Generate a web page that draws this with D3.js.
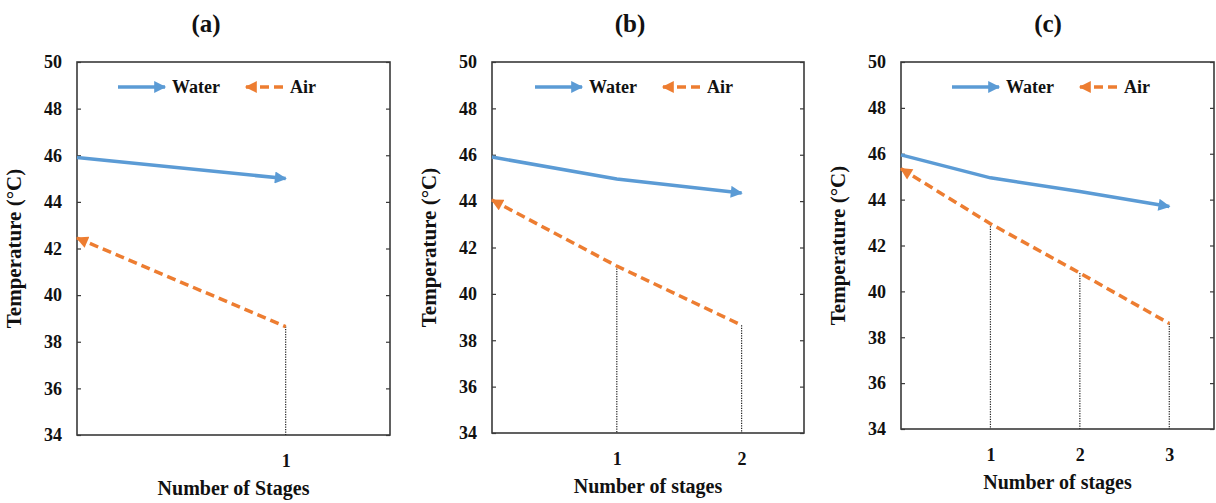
<!DOCTYPE html>
<html>
<head>
<meta charset="utf-8">
<script src="https://cdn.jsdelivr.net/npm/d3@7"></script>
<style>
  body { margin: 0; background: #fff; }
  text { font-family: "Liberation Serif", "Times New Roman", Tinos, "DejaVu Serif", serif !important; font-weight: bold; fill: #111; }
</style>
</head>
<body>
<svg id="chart" width="1216" height="503"></svg>
<script>
// Values
var panelTitles = ["(a)", "(b)", "(c)"];
var xTitles = ["Number of Stages", "Number of stages", "Number of stages"];
var yTitle = "Temperature (°C)";
var legendLabels = ["Water", "Air"];
var yTicks = [34, 36, 38, 40, 42, 44, 46, 48, 50];

var stagesA = [0, 1],
  waterA = [45.9, 45.0],
  airA = [42.45, 38.65];
var stagesB = [0, 1, 2],
  waterB = [45.9, 44.95, 44.35],
  airB = [44.05, 41.2, 38.65];
var stagesC = [0, 1, 2, 3],
  waterC = [45.95, 44.95, 44.35, 43.7],
  airC = [45.35, 42.95, 40.8, 38.6];

var waterColor = "#5b9bd5",
  airColor = "#ed7d31",
  frameColor = "#3a3a3a",
  lineWidth = 3.5;

// Panel placement (pixels)
var panels = [
  { left: 77, right: 390, top: 62, bottom: 435, titleX: 206, legendX: 41, xMax: 1.5,
    title: panelTitles[0], xTitle: xTitles[0], stages: stagesA, water: waterA, air: airA },
  { left: 492, right: 804, top: 62, bottom: 433, titleX: 630, legendX: 43, xMax: 2.5,
    title: panelTitles[1], xTitle: xTitles[1], stages: stagesB, water: waterB, air: airB },
  { left: 901, right: 1214, top: 62, bottom: 429, titleX: 1048, legendX: 51, xMax: 3.5,
    title: panelTitles[2], xTitle: xTitles[2], stages: stagesC, water: waterC, air: airC }
];

var svg = d3.select("#chart");

// Arrow heads
var defs = svg.append("defs");
function arrowMarker(id, color) {
  defs
    .append("marker")
    .attr("id", id)
    .attr("viewBox", "0 -5 10 10")
    .attr("refX", 9)
    .attr("refY", 0)
    .attr("markerUnits", "userSpaceOnUse")
    .attr("markerWidth", 13)
    .attr("markerHeight", 12)
    .attr("orient", "auto-start-reverse")
    .append("path")
    .attr("d", "M0,-5L10,0L0,5Z")
    .attr("fill", color);
}
arrowMarker("arrowWater", waterColor);
arrowMarker("arrowAir", airColor);

panels.forEach(drawPanel);

function drawPanel(p) {
  var x = d3.scaleLinear().domain([0, p.xMax]).range([p.left, p.right]);
  var y = d3.scaleLinear().domain([34, 50]).range([p.bottom, p.top]);
  var g = svg.append("g");

  // Title
  g.append("text")
    .attr("x", p.titleX)
    .attr("y", 32)
    .attr("text-anchor", "middle")
    .style("font-size", "25px")
    .text(p.title);

  // Left axis, ticks inward
  g.append("g")
    .attr("transform", "translate(" + p.left + ",0)")
    .call(d3.axisLeft(y).tickValues(yTicks).tickSize(-4).tickPadding(15))
    .call(function(a) {
      a.select(".domain").remove();
      a.selectAll("line").attr("stroke", frameColor).attr("stroke-width", 1.2);
      a.selectAll("text")
        .style("font-size", "18px")
        .attr("fill", "#111");
    });

  // Right side ticks, inward
  g.append("g")
    .attr("transform", "translate(" + p.right + ",0)")
    .call(d3.axisRight(y).tickValues(yTicks).tickSize(-4).tickFormat(""))
    .call(function(a) {
      a.select(".domain").remove();
      a.selectAll("line").attr("stroke", frameColor).attr("stroke-width", 1.2);
    });

  // Bottom axis labels
  g.append("g")
    .attr("transform", "translate(0," + p.bottom + ")")
    .call(d3.axisBottom(x).tickValues(p.stages.slice(1)).tickSize(0).tickPadding(19).tickFormat(d3.format("d")))
    .call(function(a) {
      a.select(".domain").remove();
      a.selectAll("text")
        .style("font-size", "18px")
        .attr("fill", "#111");
    });

  // Plot frame
  g.append("rect")
    .attr("x", p.left)
    .attr("y", p.top)
    .attr("width", p.right - p.left)
    .attr("height", p.bottom - p.top)
    .attr("fill", "none")
    .attr("stroke", frameColor)
    .attr("stroke-width", 1.6);

  // Axis titles
  g.append("text")
    .attr("x", (p.left + p.right) / 2)
    .attr("y", p.bottom + 60)
    .attr("text-anchor", "middle")
    .style("font-size", "20px")
    .text(p.xTitle);
  g.append("text")
    .attr("transform", "translate(" + (p.left - 56) + "," + (p.top + p.bottom) / 2 + ") rotate(-90)")
    .attr("text-anchor", "middle")
    .style("font-size", "21px")
    .text(yTitle);

  // Dotted drop lines from air outlet temperature
  g.selectAll(".drop")
    .data(p.stages.slice(1))
    .enter()
    .append("line")
    .attr("class", "drop")
    .attr("x1", d => x(d))
    .attr("x2", d => x(d))
    .attr("y1", d => y(p.air[d]))
    .attr("y2", y(34))
    .attr("stroke", "#222")
    .attr("stroke-width", 1.2)
    .attr("stroke-dasharray", "1.2,1.3");

  var line = d3
    .line()
    .x(d => x(d[0]))
    .y(d => y(d[1]));

  // Water line, arrow at outlet
  g.append("path")
    .datum(p.stages.map((s, i) => [s, p.water[i]]))
    .attr("d", line)
    .attr("fill", "none")
    .attr("stroke", waterColor)
    .attr("stroke-width", lineWidth)
    .attr("marker-end", "url(#arrowWater)");

  // Air line, arrow at first stage (counter flow)
  g.append("path")
    .datum(p.stages.map((s, i) => [s, p.air[i]]))
    .attr("d", line)
    .attr("fill", "none")
    .attr("stroke", airColor)
    .attr("stroke-width", lineWidth)
    .attr("stroke-dasharray", "9,5")
    .attr("marker-start", "url(#arrowAir)");

  // Legend
  var lx = p.left + p.legendX,
    ly = 87;
  g.append("line")
    .attr("x1", lx)
    .attr("x2", lx + 47)
    .attr("y1", ly)
    .attr("y2", ly)
    .attr("stroke", waterColor)
    .attr("stroke-width", lineWidth)
    .attr("marker-end", "url(#arrowWater)");
  g.append("text")
    .attr("x", lx + 54)
    .attr("y", ly + 6)
    .style("font-size", "18px")
    .text(legendLabels[0]);
  g.append("line")
    .attr("x1", lx + 128)
    .attr("x2", lx + 170)
    .attr("y1", ly)
    .attr("y2", ly)
    .attr("stroke", airColor)
    .attr("stroke-width", lineWidth)
    .attr("stroke-dasharray", "9,5")
    .attr("marker-start", "url(#arrowAir)");
  g.append("text")
    .attr("x", lx + 172)
    .attr("y", ly + 6)
    .style("font-size", "18px")
    .text(legendLabels[1]);
}
</script>
</body>
</html>
